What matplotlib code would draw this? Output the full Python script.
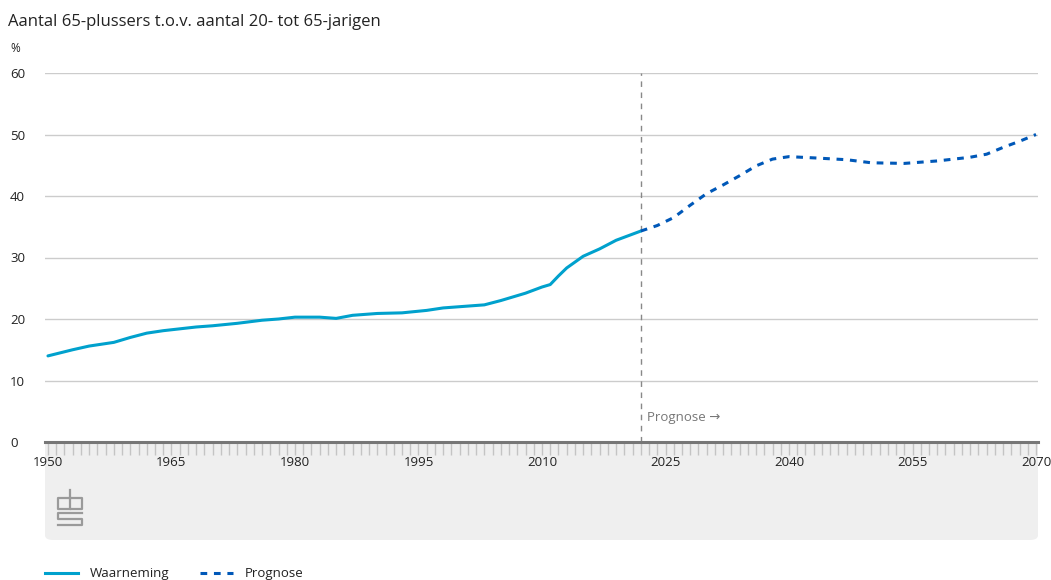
import matplotlib.pyplot as plt
from matplotlib.patches import FancyBboxPatch, Rectangle
from matplotlib.lines import Line2D

# observed values (Waarneming)
obs_years = [1950, 1953, 1955, 1958, 1960, 1962, 1964, 1966, 1968, 1970, 1973,
             1976, 1978, 1980, 1983, 1985, 1987, 1990, 1993, 1996, 1998, 2000,
             2003, 2005, 2008, 2010, 2011, 2012, 2013, 2015, 2017, 2019, 2022]
obs_vals = [14.0, 15.0, 15.6, 16.2, 17.0, 17.7, 18.1, 18.4, 18.7, 18.9, 19.3,
            19.8, 20.0, 20.3, 20.3, 20.1, 20.6, 20.9, 21.0, 21.4, 21.8, 22.0,
            22.3, 23.0, 24.2, 25.2, 25.6, 27.0, 28.3, 30.2, 31.4, 32.8, 34.3]

# forecast (Prognose)
prog_years = [2022, 2024, 2026, 2028, 2030, 2032, 2034, 2036, 2038, 2040, 2043,
              2047, 2050, 2054, 2058, 2062, 2064, 2066, 2068, 2070]
prog_vals = [34.3, 35.2, 36.5, 38.5, 40.4, 41.8, 43.3, 44.9, 46.0, 46.4, 46.2,
             45.9, 45.4, 45.3, 45.7, 46.3, 46.8, 47.9, 48.9, 50.0]

prog_start = 2022
x_ticks = [1950, 1965, 1980, 1995, 2010, 2025, 2040, 2055, 2070]
y_ticks = [0, 10, 20, 30, 40, 50, 60]

FONT = ["Open Sans", "DejaVu Sans"]
W, H = 1051, 580
fig = plt.figure(figsize=(W / 100, H / 100), dpi=100)

# grey band under the axis
band = FancyBboxPatch((45 / W, 40 / H), 993 / W, 95 / H,
                      boxstyle="round,pad=0,rounding_size=0.008",
                      transform=fig.transFigure, facecolor="#efefef",
                      edgecolor="none", zorder=0)
fig.patches.append(band)
fig.patches.append(Rectangle((45 / W, 110 / H), 993 / W, 28 / H,
                             transform=fig.transFigure, facecolor="#efefef",
                             edgecolor="none", zorder=0))

ax = fig.add_axes([45 / W, 138 / H, 993 / W, 369 / H])
ax.set_zorder(2)
ax.set_xlim(1949.64, 2070.24)
ax.set_ylim(0, 60)
ax.patch.set_alpha(0)

for s in ax.spines.values():
    s.set_visible(False)

ax.set_yticks(y_ticks)
ax.yaxis.grid(True, color="#cccccc", lw=1)
ax.set_axisbelow(True)
ax.tick_params(axis="y", length=0, labelsize=9.5, pad=0, labelcolor="#222222")
ax.set_yticklabels([str(v) for v in y_ticks], fontfamily=FONT, ha="left")
for lab in ax.get_yticklabels():
    lab.set_x(-35 / 993)

ax.set_xticks(x_ticks)
ax.set_xticks(range(1950, 2071), minor=True)
ax.set_xticklabels([str(v) for v in x_ticks], fontfamily=FONT)
ax.tick_params(axis="x", which="both", direction="out", length=9, width=1,
               color="#c4c4c4", labelsize=9.5, pad=1, labelcolor="#222222")
ax.axhline(0, color="#777777", lw=2.2, zorder=3, clip_on=False)

ax.plot(obs_years, obs_vals, color="#00a1cd", lw=2.2, solid_capstyle="round",
        zorder=4)
ax.plot(prog_years, prog_vals, color="#0058b8", lw=2.2, ls=(0, (2.2, 2.2)),
        zorder=4)

ax.axvline(prog_start, color="#888888", lw=1, ls=(0, (4, 4)), zorder=2)
ax.text(prog_start + 0.8, 4, "Prognose \u2192", fontsize=9.5, color="#777777",
        fontfamily=FONT, va="center")

# title and unit
fig.text(8 / W, 1 - 22 / H, "Aantal 65-plussers t.o.v. aantal 20- tot 65-jarigen",
         fontsize=12, fontfamily=FONT, color="#222222", va="center")
fig.text(10 / W, 1 - 48 / H, "%", fontsize=8.5, fontfamily=FONT,
         color="#222222", va="center")

# simple cbs logo
logo = [
    [(70, 498), (58, 498), (58, 509), (70, 509)],
    [(70, 490), (70, 509), (82, 509), (82, 498), (70, 498)],
    [(82, 513), (58, 513), (58, 519), (82, 519), (82, 525), (58, 525)],
]
for pts in logo:
    xs = [p[0] / W for p in pts]
    ys = [1 - p[1] / H for p in pts]
    fig.add_artist(Line2D(xs, ys, color="#9a9a9a", lw=1.6,
                          transform=fig.transFigure))

# legend
ly = 1 - 573 / H
fig.add_artist(Line2D([45 / W, 78 / W], [ly, ly], color="#00a1cd", lw=2.2,
                      transform=fig.transFigure))
fig.text(90 / W, ly, "Waarneming", fontsize=9.5, fontfamily=FONT,
         color="#222222", va="center")
fig.add_artist(Line2D([200 / W, 233 / W], [ly, ly], color="#0058b8", lw=2.2,
                      ls=(0, (2.2, 2.2)), transform=fig.transFigure))
fig.text(245 / W, ly, "Prognose", fontsize=9.5, fontfamily=FONT,
         color="#222222", va="center")

fig.savefig("out.png", dpi=100)
